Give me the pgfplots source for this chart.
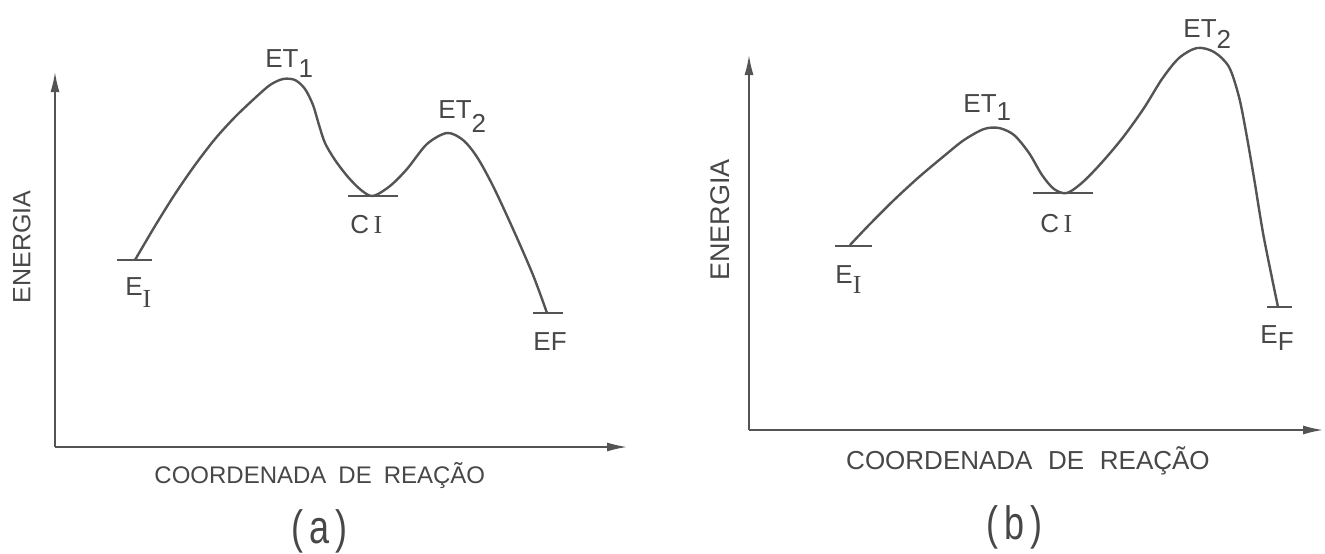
\documentclass[border=0pt]{standalone}
\usepackage{pgfplots}
\pgfplotsset{compat=1.18}
\usetikzlibrary{arrows.meta}
\usepackage{fontspec}
\setmainfont{Liberation Sans}
\newfontfamily\serifI{Liberation Serif}
\definecolor{ink}{gray}{0.33}
\definecolor{tink}{gray}{0.28}

\begin{document}
\begin{tikzpicture}
\useasboundingbox (0,0) rectangle (662.5pt,276.5pt);
\pgfplotsset{
 panel/.style={
  scale only axis, height=187.5pt,
  axis x line=bottom, axis y line=left,
  xtick=\empty, ytick=\empty,
  xmin=0, ymin=0, ymax=375,
  clip=false,
  axis line style={draw=ink, line width=0.8pt, -{Latex[length=10pt,width=4.5pt]}},
  x label style={anchor=center, text=tink},
  y label style={anchor=center, rotate=0, text=tink},
 },
 curve/.style={draw=ink, line width=1.2pt, smooth, no marks},
 level/.style={draw=ink, line width=0.9pt, no marks},
}
\tikzset{lab/.style={anchor=base west, inner sep=0pt, text=tink, font=\fontsize{13}{15}\selectfont}}
% ---------------- panel (a) ----------------
\begin{axis}[panel, at={(27.5pt,53pt)}, anchor=south west, width=286pt, xmax=572,
  xlabel={COORDENADA\hspace{0.5em}DE\hspace{0.5em}REAÇÃO},
  xlabel style={at={(axis description cs:0.463,-0.077)}, font=\fontsize{12}{14}\selectfont},
  ylabel={ENERGIA},
  ylabel style={at={(axis description cs:-0.058,0.533)}, font=\fontsize{12.5}{14}\selectfont},
]
\addplot[curve] coordinates {
 (80,187) (100,221) (120,253) (140,282) (160,308) (180,330) (200,349) (215,362)
 (228,368) (240,367) (250,358) (258,342) (264,322) (270,304) (280,287) (293,270)
 (306,257) (318,251) (335,261) (352,278) (372,303) (392,314) (408,307) (422,290)
 (438,261) (458,218) (478,172) (492,134)};
\addplot[level] coordinates {(62,187) (97,187)};
\addplot[level] coordinates {(293,251) (343,251)};
\addplot[level] coordinates {(478,134) (508,134)};
\node[lab] at (axis cs:210,380) {ET\raisebox{-5pt}{1}};
\node[lab] at (axis cs:383,329) {ET\raisebox{-7pt}{2}};
\node[lab] at (axis cs:295,214) {C\,{\serifI I}};
\node[lab] at (axis cs:70,152) {E\raisebox{-6pt}{\serifI I}};
\node[lab] at (axis cs:478,97) {EF};
\node[text=tink, font=\fontsize{18}{20}\selectfont, yscale=1.3] at (axis description cs:0.463,-0.224) {(\,a\,)};
\end{axis}
% ---------------- panel (b) ----------------
\begin{axis}[panel, at={(374.5pt,61.5pt)}, anchor=south west, width=287pt, xmax=574,
  xlabel={COORDENADA\hspace{0.6em}DE\hspace{0.6em}REAÇÃO},
  xlabel style={at={(axis description cs:0.486,-0.083)}, font=\fontsize{13}{15}\selectfont},
  ylabel={ENERGIA},
  ylabel style={at={(axis description cs:-0.05,0.56)}, font=\fontsize{13.5}{15}\selectfont},
]
\addplot[curve] coordinates {
 (101,185) (120,205) (145,230) (170,253) (195,274) (215,290) (235,301) (250,302)
 (265,295) (280,277) (293,255) (305,241) (318,237) (335,249) (355,270) (375,294)
 (395,322) (413,351) (430,372) (448,382) (465,378) (480,363) (490,333) (497,298)
 (505,252) (514,197) (524,147) (529,123)};
\addplot[level] coordinates {(86,184) (123,184)};
\addplot[level] coordinates {(284,237) (344,237)};
\addplot[level] coordinates {(518,123) (543,123)};
\node[lab] at (axis cs:214,318) {ET\raisebox{-4pt}{1}};
\node[lab] at (axis cs:434,393) {ET\raisebox{-5.5pt}{2}};
\node[lab] at (axis cs:291,198) {C\,{\serifI I}};
\node[lab] at (axis cs:86,147) {E\raisebox{-5pt}{\serifI I}};
\node[lab] at (axis cs:511,87) {E\raisebox{-3.5pt}{F}};
\node[text=tink, font=\fontsize{18}{20}\selectfont, yscale=1.3] at (axis description cs:0.463,-0.259) {(\,b\,)};
\end{axis}
\end{tikzpicture}
\end{document}
